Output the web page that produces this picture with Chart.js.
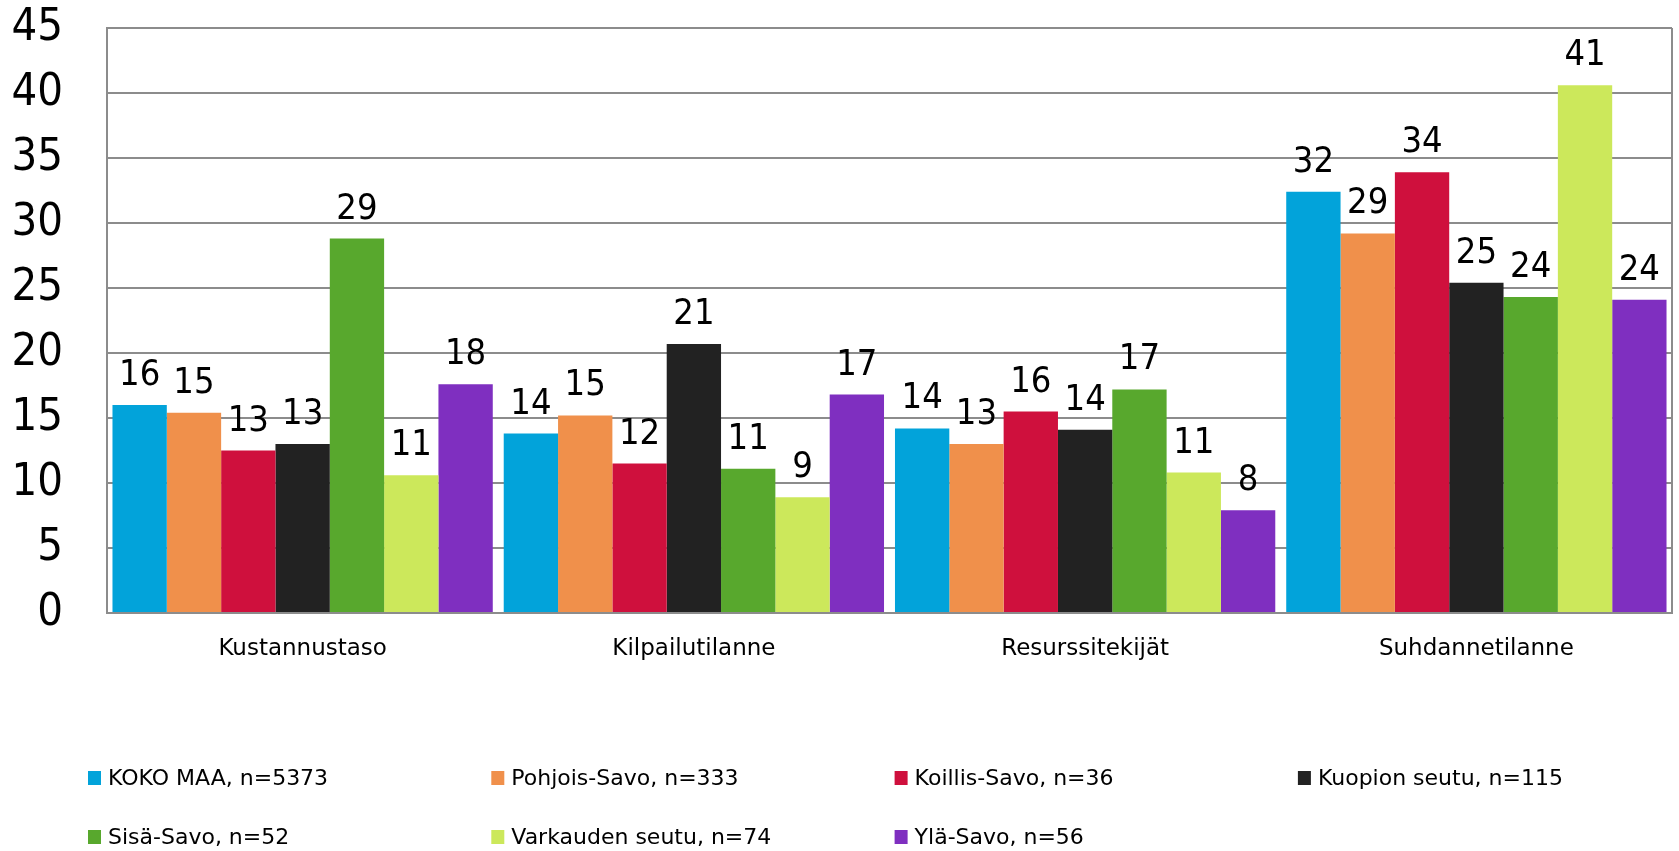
<!DOCTYPE html>
<html>
<head>
<meta charset="utf-8">
<script src="https://cdn.jsdelivr.net/npm/chart.js@4/dist/chart.umd.min.js"></script>
<style>
  html, body { margin: 0; padding: 0; background: #fff; }
  #wrap { width: 1679px; height: 851px; }
</style>
</head>
<body>
<div id="wrap"><canvas id="barChart" width="1679" height="851"></canvas></div>
<script>
const categories = ["Kustannustaso", "Kilpailutilanne", "Resurssitekijät", "Suhdannetilanne"];

const kokoMaa = [16.0, 13.8, 14.2, 32.4];
const pohjoisSavo = [15.4, 15.2, 13.0, 29.2];
const koillisSavo = [12.5, 11.5, 15.5, 33.9];
const kuopionSeutu = [13.0, 20.7, 14.1, 25.4];
const sisaSavo = [28.8, 11.1, 17.2, 24.3];
const varkaudenSeutu = [10.6, 8.9, 10.8, 40.6];
const ylaSavo = [17.6, 16.8, 7.9, 24.1];

const seriesNames = [
  "KOKO MAA, n=5373",
  "Pohjois-Savo, n=333",
  "Koillis-Savo, n=36",
  "Kuopion seutu, n=115",
  "Sisä-Savo, n=52",
  "Varkauden seutu, n=74",
  "Ylä-Savo, n=56"
];
const seriesValues = [kokoMaa, pohjoisSavo, koillisSavo, kuopionSeutu, sisaSavo, varkaudenSeutu, ylaSavo];
const yTicks = [0, 5, 10, 15, 20, 25, 30, 35, 40, 45];

const colors = ["#02a3da", "#f0904b", "#cf103d", "#222222", "#58a82d", "#cce85b", "#7f2fc0"];
const NUM_FONT = "'DejaVu Sans Condensed', 'DejaVu Sans', sans-serif";
const TEXT_FONT = "'DejaVu Sans', sans-serif";

// value labels above the bars
const valueLabels = {
  id: "valueLabels",
  afterDatasetsDraw(chart) {
    const ctx = chart.ctx;
    ctx.save();
    ctx.font = "36px " + NUM_FONT;
    ctx.fillStyle = "#000";
    ctx.textAlign = "center";
    ctx.textBaseline = "alphabetic";
    chart.data.datasets.forEach(function (ds, i) {
      chart.getDatasetMeta(i).data.forEach(function (bar, j) {
        ctx.fillText(String(Math.round(ds.data[j])), bar.x, bar.y - 20);
      });
    });
    ctx.restore();
  }
};

// right border + legend in fixed columns
const frameAndLegend = {
  id: "frameAndLegend",
  afterDraw(chart) {
    const ctx = chart.ctx;
    const area = chart.chartArea;
    ctx.save();
    ctx.strokeStyle = "#8c8c8c";
    ctx.lineWidth = 2;
    ctx.beginPath();
    ctx.moveTo(area.right, area.top);
    ctx.lineTo(area.right, area.bottom);
    ctx.stroke();

    ctx.font = "22px " + TEXT_FONT;
    ctx.textBaseline = "middle";
    ctx.textAlign = "left";
    chart.data.datasets.forEach(function (ds, i) {
      const col = i % 4;
      const row = Math.floor(i / 4);
      const x = 88 + col * 403.3;
      const y = 778 + row * 59;
      ctx.fillStyle = ds.backgroundColor;
      ctx.fillRect(x, y - 7, 13, 14);
      ctx.fillStyle = "#000";
      ctx.fillText(ds.label, x + 20, y + 1);
    });
    ctx.restore();
  }
};

const ctx = document.getElementById("barChart").getContext("2d");

new Chart(ctx, {
  type: "bar",
  data: {
    labels: categories,
    datasets: seriesNames.map(function (name, i) {
      return {
        label: name,
        data: seriesValues[i],
        backgroundColor: colors[i],
        borderWidth: 0,
        categoryPercentage: 0.972,
        barPercentage: 1
      };
    })
  },
  options: {
    responsive: false,
    animation: false,
    layout: {
      padding: { top: 28, right: 7, bottom: 178, left: 0 }
    },
    plugins: {
      legend: { display: false },
      tooltip: { enabled: false },
      title: { display: false }
    },
    scales: {
      x: {
        grid: { display: false, drawTicks: false },
        border: { display: true, color: "#8c8c8c", width: 2 },
        ticks: {
          color: "#000",
          padding: 22,
          font: { size: 23, family: TEXT_FONT }
        },
        afterFit: function (scale) { scale.height = 60; }
      },
      y: {
        min: 0,
        max: 45,
        afterBuildTicks: function (scale) {
          scale.ticks = yTicks.map(function (v) { return { value: v }; });
        },
        grid: { color: "#8c8c8c", lineWidth: 2, drawTicks: false },
        border: { display: true, color: "#8c8c8c", width: 2 },
        ticks: {
          color: "#000",
          padding: 44,
          font: { size: 45, family: NUM_FONT }
        },
        afterFit: function (scale) {
          scale.width = 107;
          scale.paddingTop = 0;
          scale.paddingBottom = 0;
        }
      }
    }
  },
  plugins: [valueLabels, frameAndLegend]
});
</script>
</body>
</html>
